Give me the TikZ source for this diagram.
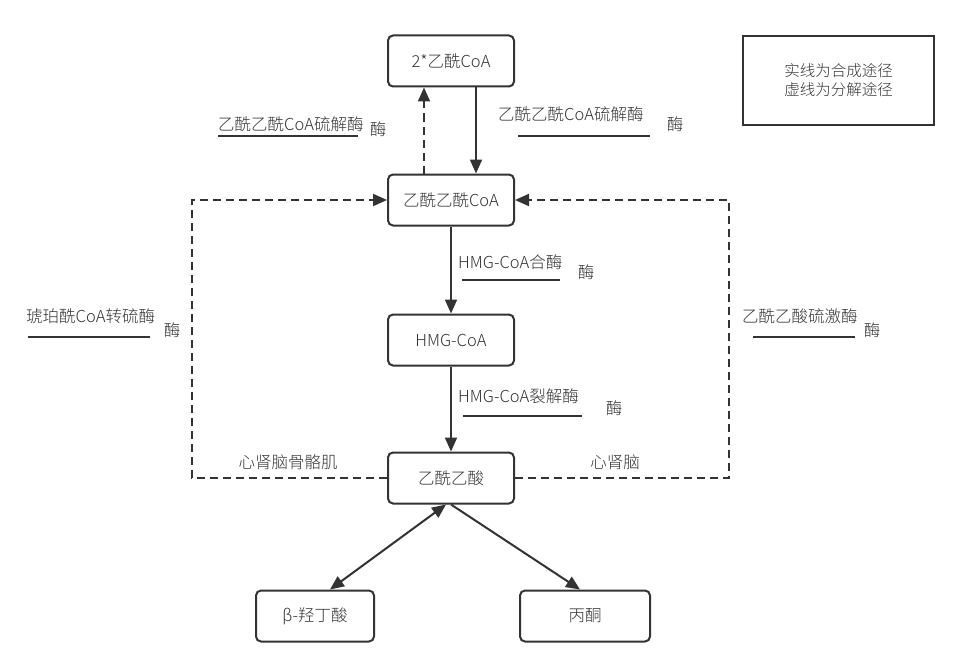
\documentclass[tikz,border=0pt]{standalone}
\usepackage{fontspec}
\setmainfont{Noto Sans CJK SC Light}
\usetikzlibrary{arrows.meta}
\definecolor{ink}{HTML}{333333}
\tikzset{
  stepbox/.style={draw=ink, line width=2pt, rounded corners=5pt, minimum width=126pt,
    minimum height=51pt, text=ink, font=\fontsize{16.5}{18}\selectfont},
  lab/.style={text=ink, font=\fontsize{16.5}{18}\selectfont, inner sep=0pt},
  arr/.style={draw=ink, line width=2pt, -{Triangle[length=14pt,width=12pt]}},
  dasharr/.style={arr, dash pattern=on 8pt off 5pt},
  uline/.style={draw=ink, line width=2pt}
}
\begin{document}
\begin{tikzpicture}[x=1pt, y=-1pt]
  \useasboundingbox (0,0) rectangle (960,666);
  % boxes
  \node[stepbox] (acoa) at (451,61) {2*乙酰CoA};
  \node[stepbox] (acac) at (451,200) {乙酰乙酰CoA};
  \node[stepbox] (hmg) at (451,340) {HMG-CoA};
  \node[stepbox] (aca) at (451,478) {乙酰乙酸};
  \node[stepbox, minimum width=118pt] (hb) at (315,616) {β-羟丁酸};
  \node[stepbox, minimum width=130pt] (ac) at (585,616) {丙酮};
  \node[stepbox, rounded corners=0pt, minimum width=191pt, minimum height=89pt, align=center,
    font=\fontsize{15.5}{19}\selectfont] (legend) at (838.5,80.5) {实线为合成途径\\虚线为分解途径};

  % arrows
  \draw[dasharr] ([xshift=-27pt]acac.north) -- ([xshift=-27pt]acoa.south);
  \draw[arr] ([xshift=25pt]acoa.south) -- ([xshift=25pt]acac.north);
  \draw[arr] (acac) -- (hmg);
  \draw[arr] (hmg) -- (aca);
  \draw[dasharr] (aca.west) -- ++(-195,0) |- (acac.west);
  \draw[dasharr] (aca.east) -- ++(214,0) |- (acac.east);
  \draw[arr, {Triangle[length=14pt,width=12pt]}-{Triangle[length=14pt,width=12pt]}]
    ([xshift=-5pt]aca.south) -- ([xshift=15pt]hb.north);
  \draw[arr] (aca.south) -- ([xshift=-5pt]ac.north);

  % enzyme labels
  \node[lab, anchor=west] (thl) at (218,124) {乙酰乙酰CoA硫解酶};
  \node[lab] (thlm) at (378,129) {酶};
  \draw[uline] (218,136) -- (358,136);
  \node[lab, anchor=west] (thr) at (498,114) {乙酰乙酰CoA硫解酶};
  \node[lab] (thrm) at (675,124) {酶};
  \draw[uline] (518,136) -- (650,136);
  \node[lab, anchor=west] (hms) at (458,262) {HMG-CoA合酶};
  \node[lab] (hmsm) at (586,272) {酶};
  \draw[uline] (462,280) -- (560,280);
  \node[lab, anchor=west] (hml) at (458,396) {HMG-CoA裂解酶};
  \node[lab] (hmlm) at (614,408) {酶};
  \draw[uline] (463,416) -- (582,416);
  \node[lab, anchor=west] (sct) at (26,316) {琥珀酰CoA转硫酶};
  \node[lab] (sctm) at (172,330) {酶};
  \draw[uline] (28,337) -- (150,337);
  \node[lab, anchor=west] (aks) at (742,316) {乙酰乙酸硫激酶};
  \node[lab] (aksm) at (872,330) {酶};
  \draw[uline] (753,337) -- (855,337);

  % tissues
  \node[lab] (tl) at (288,462) {心肾脑骨骼肌};
  \node[lab] (tr) at (615,462) {心肾脑};
\end{tikzpicture}
\end{document}
